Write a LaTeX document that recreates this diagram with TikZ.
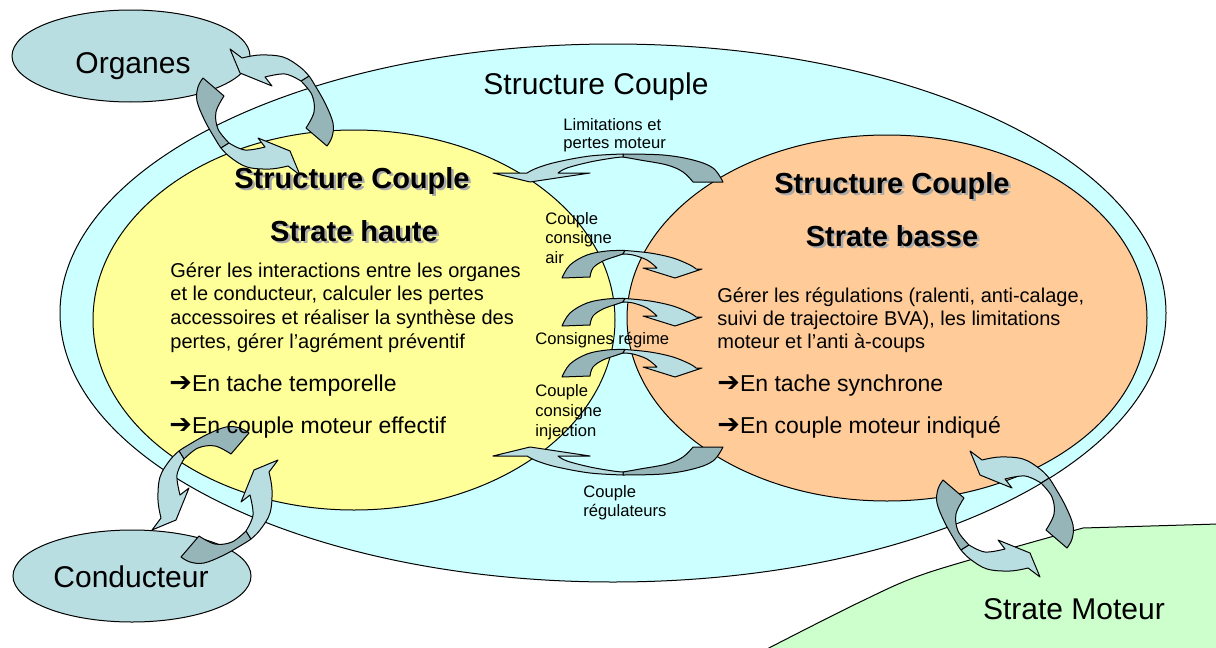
\documentclass[tikz,border=0pt]{standalone}
\usepackage{fontspec}
\setmainfont{Liberation Sans}
\newfontfamily\dejavu{DejaVu Sans}
\definecolor{cyanbg}{RGB}{204,255,255}
\definecolor{yellowbg}{RGB}{255,255,153}
\definecolor{orangebg}{RGB}{255,204,153}
\definecolor{greenbg}{RGB}{204,255,204}
\definecolor{arrlight}{RGB}{185,222,226}
\definecolor{arrdark}{RGB}{150,181,184}
\definecolor{shadowgray}{RGB}{170,170,170}
\newcommand{\bularrow}{{\dejavu\fontsize{13.5}{14}\selectfont ➔}}
\tikzset{
  outl/.style={draw=black, line width=0.5pt},
  lightarr/.style={fill=arrlight, draw=black, line width=0.5pt, line join=round},
  darkarr/.style={fill=arrdark, draw=black, line width=0.5pt, line join=round},
  bigtxt/.style={font=\fontsize{15}{18}\selectfont, inner sep=0pt, anchor=base},
  bodytxt/.style={font=\fontsize{10}{12}\selectfont, inner sep=0pt, anchor=base west},
  bullettxt/.style={font=\fontsize{11.5}{14}\selectfont, inner sep=0pt, anchor=base west},
  smalltxt/.style={font=\fontsize{8.3}{10}\selectfont, inner sep=0pt, anchor=base west},
  titletxt/.style={font=\fontsize{14.5}{17}\selectfont\bfseries, inner sep=0pt, anchor=base},
  shadowtxt/.style={titletxt, text=shadowgray},
}
% ring arrow (relative to ring centre)
\newcommand{\ringarrow}{%
  \filldraw[darkarr] plot[smooth,tension=.6] coordinates {(44,-36) (48,-30) (60,-9) (68,11) (67,25) (62,34)} -- (41,16)
     -- plot[smooth,tension=.6] coordinates {(41,16) (49,0) (47,-17) (36,-31)} -- cycle;
  \filldraw[lightarr] plot[smooth,tension=.6] coordinates {(44,-36) (35,-45) (18,-55) (-5,-57) (-23,-54)}
     -- (-35,-63) -- (-25,-39) -- (7,-26) -- (0,-35)
     -- plot[smooth,tension=.6] coordinates {(0,-35) (20,-38) (36,-31)} -- cycle;
}
% arch arrow between the two ellipses (relative to base centre)
\newcommand{\midarrow}{%
  \filldraw[darkarr] plot[smooth,tension=.6] coordinates {(-61,0) (-53,-13) (-36,-23) (-16,-27) (2,-27.5)}
     -- plot[smooth,tension=.6] coordinates {(0,-24) (-6,-22) (-20,-17) (-30,-10) (-33,-1)} -- cycle;
  \filldraw[lightarr] plot[smooth,tension=.6] coordinates {(2,-27.5) (27,-25) (50,-20) (67,-13) (73,-9)}
     -- (79,-9) -- (52,0) -- (20,-10) -- (34,-10)
     -- plot[smooth,tension=.6] coordinates {(34,-10) (24,-18) (10,-23) (0,-24)} -- cycle;
}
% wide arch arrow (absolute coordinates)
\newcommand{\widearrow}{%
  \filldraw[darkarr] plot[smooth,tension=.6] coordinates {(623,154) (663,155) (693,160) (713,168) (723,182)} -- (693,182)
     -- plot[smooth,tension=.6] coordinates {(693,182) (683,172) (667,165) (640,160) (623,157)} -- cycle;
  \filldraw[lightarr] plot[smooth,tension=.6] coordinates {(623,154) (590,156) (557,162) (537,168) (527,173)}
     -- (493,173) -- (530,182) -- (590,173) -- (558,173)
     -- plot[smooth,tension=.6] coordinates {(558,173) (567,168) (590,162) (613,158) (623,157)} -- cycle;
}
\begin{document}
\begin{tikzpicture}[x=0.5pt,y=-0.5pt]
\useasboundingbox (0,0) rectangle (1216,648);
\fill[white] (0,0) rectangle (1216,648);

% Strate Moteur region
\fill[greenbg] (765,650) -- plot[smooth,tension=.5] coordinates {(765,650) (860,602) (930,572) (1083,528)} -- (1218,524) -- (1218,650) -- cycle;
\draw[outl] plot[smooth,tension=.5] coordinates {(765,650) (860,602) (930,572) (1083,528)} -- (1218,524);

% ellipses
\draw[outl, fill=cyanbg] (613,313) ellipse [x radius=276.5pt, y radius=134.5pt];
\draw[outl, fill=yellowbg] (354,320) ellipse [x radius=130.5pt, y radius=95pt];
\draw[outl, fill=orangebg] (887,318) ellipse [x radius=130pt, y radius=91.5pt];
\draw[outl, fill=arrlight] (131,56) ellipse [x radius=59.5pt, y radius=23pt];
\draw[outl, fill=arrlight] (132,576) ellipse [x radius=59.5pt, y radius=23pt];

% ring arrows
\begin{scope}[shift={(265,112)}] \ringarrow \end{scope}
\begin{scope}[shift={(265,112)}, rotate=180] \ringarrow \end{scope}
\begin{scope}[shift={(215,495)}, rotate=90] \ringarrow \end{scope}
\begin{scope}[shift={(215,495)}, rotate=270] \ringarrow \end{scope}
\begin{scope}[shift={(1005,514)}] \ringarrow \end{scope}
\begin{scope}[shift={(1005,514)}, rotate=180] \ringarrow \end{scope}

% arrows between strates
\widearrow
\begin{scope}[shift={(0,629)}, yscale=-1] \widearrow \end{scope}
\begin{scope}[shift={(623,278)}] \midarrow \end{scope}
\begin{scope}[shift={(623,326)}] \midarrow \end{scope}
\begin{scope}[shift={(623,377)}] \midarrow \end{scope}

% labels
\node[bigtxt] (organes) at (133,73) {Organes};
\node[bigtxt] (sctop) at (596,94) {Structure Couple};
\node[bigtxt] (conducteur) at (131,587) {Conducteur};
\node[bigtxt] (moteur) at (1074,619) {Strate Moteur};

\node[shadowtxt] (shA1) at (354.5,190.5) {Structure Couple};
\node[titletxt] (tA1) at (352,188) {Structure Couple};
\node[shadowtxt] (shA2) at (356.5,243.5) {Strate haute};
\node[titletxt] (tA2) at (354,241) {Strate haute};
\node[shadowtxt] (shB1) at (894.5,195.5) {Structure Couple};
\node[titletxt] (tB1) at (892,193) {Structure Couple};
\node[shadowtxt] (shB2) at (894.5,248.5) {Strate basse};
\node[titletxt] (tB2) at (892,246) {Strate basse};

\node[bodytxt] (l1) at (170,277) {Gérer les interactions entre les organes};
\node[bodytxt] (l2) at (170,300) {et le conducteur, calculer les pertes};
\node[bodytxt] (l3) at (170,324) {accessoires et réaliser la synthèse des};
\node[bodytxt] (l4) at (170,348) {pertes, gérer l’agrément préventif};
\node[bullettxt] (l5) at (169,391) {\bularrow En tache temporelle};
\node[bullettxt] (l6) at (169,433) {\bularrow En couple moteur effectif};

\node[bodytxt] (r1) at (717,302) {Gérer les régulations (ralenti, anti-calage,};
\node[bodytxt] (r2) at (717,325) {suivi de trajectoire BVA), les limitations};
\node[bodytxt] (r3) at (717,348) {moteur et l’anti à-coups};
\node[bullettxt] (r4) at (717,391) {\bularrow En tache synchrone};
\node[bullettxt] (r5) at (717,433) {\bularrow En couple moteur indiqué};

\node[smalltxt] (lim1) at (563,130) {Limitations et};
\node[smalltxt] (lim2) at (563,148) {pertes moteur};
\node[smalltxt] (air1) at (545,224) {Couple};
\node[smalltxt] (air2) at (545,243) {consigne};
\node[smalltxt] (air3) at (545,263) {air};
\node[smalltxt] (regime) at (535,344) {Consignes régime};
\node[smalltxt] (inj1) at (535,396) {Couple};
\node[smalltxt] (inj2) at (535,416) {consigne};
\node[smalltxt] (inj3) at (535,436) {injection};
\node[smalltxt] (regu1) at (583,497) {Couple};
\node[smalltxt] (regu2) at (583,516) {régulateurs};
\end{tikzpicture}
\end{document}
